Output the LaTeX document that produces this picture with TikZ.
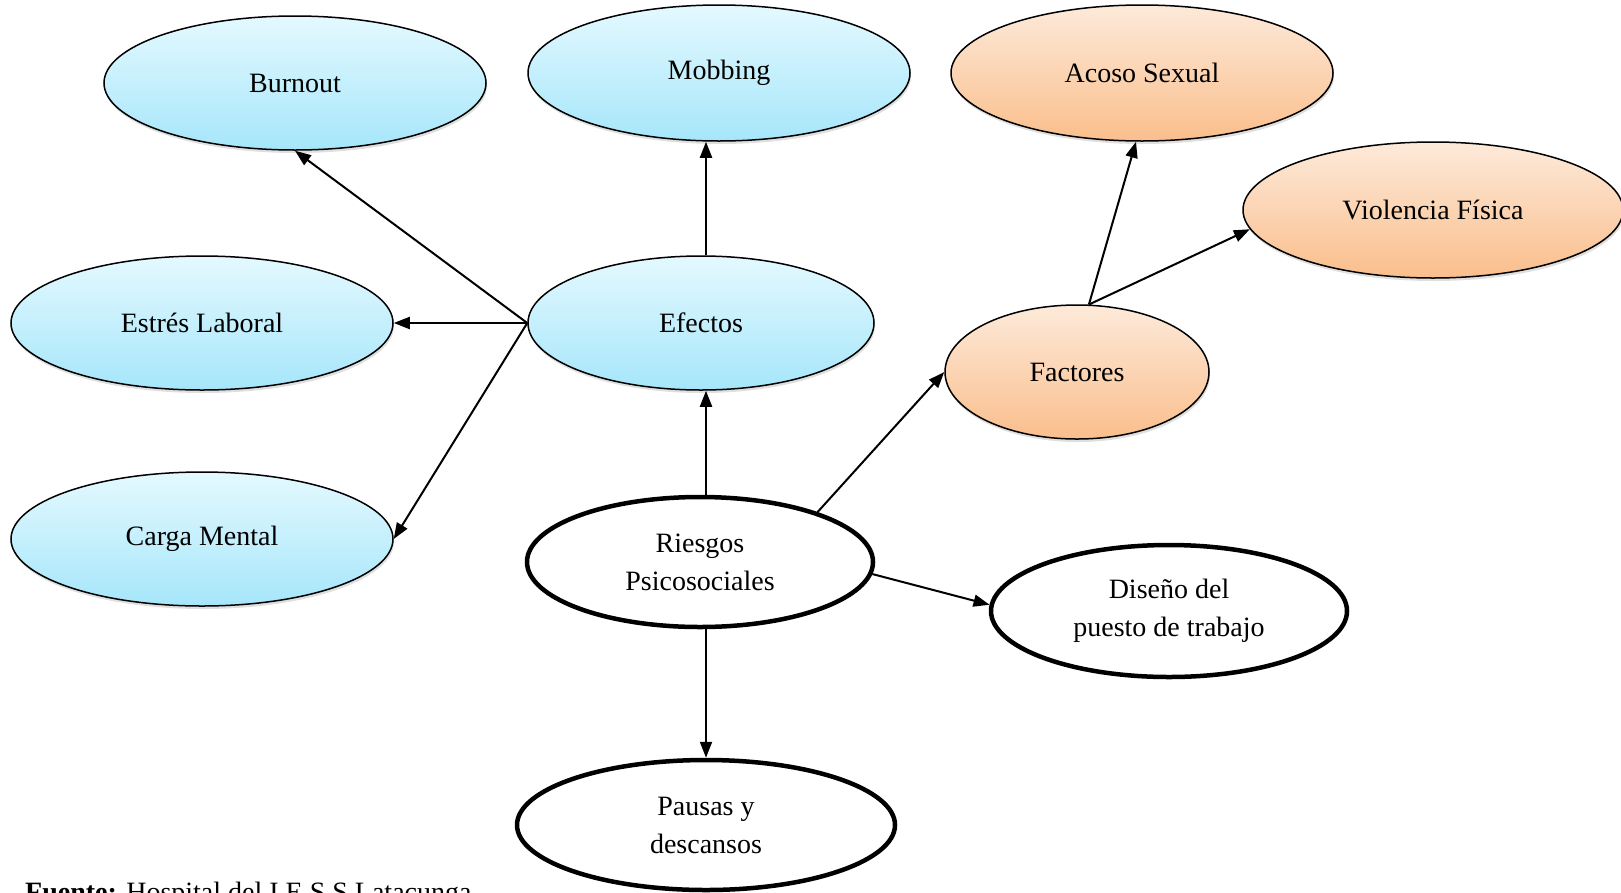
\documentclass[tikz,border=0pt]{standalone}
\usepackage{fontspec}
\setmainfont{Liberation Serif}
\usetikzlibrary{shapes.geometric,arrows.meta,shadows}
\definecolor{bluetop}{RGB}{228,249,255}
\definecolor{bluebot}{RGB}{166,230,250}
\definecolor{orangetop}{RGB}{253,234,218}
\definecolor{orangebot}{RGB}{250,190,140}
\tikzset{
  oval/.style={ellipse, draw=black, inner sep=0pt, align=center,
    font=\fontsize{28}{38}\selectfont},
  blueoval/.style={oval, line width=1.5pt, top color=bluetop, bottom color=bluebot,
    drop shadow={opacity=0.25, shadow xshift=1pt, shadow yshift=-3pt}},
  orangeoval/.style={oval, line width=1.5pt, top color=orangetop, bottom color=orangebot,
    drop shadow={opacity=0.25, shadow xshift=1pt, shadow yshift=-3pt}},
  boldoval/.style={oval, line width=4.5pt, fill=white},
  conn/.style={line width=2pt, -{Triangle[length=16pt,width=12pt]}}
}
\begin{document}
\begin{tikzpicture}[x=1pt,y=-1pt]
\useasboundingbox (0,0) rectangle (1621,892);
\node[blueoval, minimum width=382pt, minimum height=134pt] (burnout) at (295,83) {Burnout};
\node[blueoval, minimum width=382pt, minimum height=136pt] (mobbing) at (719,73) {Mobbing};
\node[orangeoval, minimum width=382pt, minimum height=136pt] (acoso) at (1142,73) {Acoso Sexual};
\node[orangeoval, minimum width=380pt, minimum height=136pt] (violencia) at (1433,210) {Violencia Física};
\node[blueoval, minimum width=382pt, minimum height=134pt] (estres) at (202,323) {Estrés Laboral};
\node[blueoval, minimum width=346pt, minimum height=134pt] (efectos) at (701,323) {Efectos};
\node[blueoval, minimum width=382pt, minimum height=134pt] (carga) at (202,539) {Carga Mental};
\node[orangeoval, minimum width=264pt, minimum height=134pt] (factores) at (1077,372) {Factores};
\node[boldoval, minimum width=346pt, minimum height=130pt] (riesgos) at (700,562) {Riesgos\\Psicosociales};
\node[boldoval, minimum width=356pt, minimum height=132pt] (diseno) at (1169,611) {Diseño del\\puesto de trabajo};
\node[boldoval, minimum width=378pt, minimum height=130pt] (pausas) at (706,825) {Pausas y\\descansos};
\coordinate (axis) at (706,0);

\draw[conn] (efectos.west) -- (burnout.south);
\draw[conn] (efectos.west) -- (estres.east);
\draw[conn] (efectos.west) -- (carga.east);
\draw[conn] (efectos.north -| axis) -- (mobbing.south -| axis);
\draw[conn] (riesgos.north -| axis) -- (efectos.south -| axis);
\draw[conn] (riesgos.south -| axis) -- (pausas.north -| axis);
\draw[conn] (riesgos.23) -- (factores.west);
\draw[conn] (riesgos.-4) -- (diseno.178);
\draw[conn] (factores.80) -- (acoso.265);
\draw[conn] (factores.80) -- (violencia.186);

\node[anchor=base west, font=\fontsize{28}{34}\selectfont, inner sep=0pt] (fuente) at (25,901) {\textbf{Fuente:} Hospital del I.E.S.S Latacunga};
\end{tikzpicture}
\end{document}
